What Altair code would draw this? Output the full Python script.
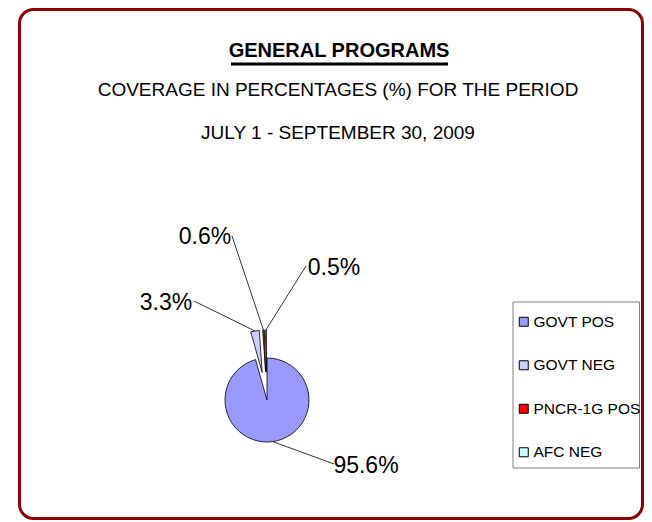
import altair as alt
import numpy as np
import pandas as pd

# ---------------- data ----------------
categories = ["GOVT  POS", "GOVT  NEG", "PNCR-1G POS", "AFC NEG"]
values = [95.6, 3.3, 0.6, 0.5]
slice_colors = ["#9999FF", "#CCCCFF", "#FF0000", "#CCFFFF"]
pulled_out = [0, 1, 1, 1]

title_text = "GENERAL PROGRAMS"
subtitle_1 = "COVERAGE IN PERCENTAGES (%) FOR THE PERIOD"
subtitle_2 = "JULY 1 - SEPTEMBER 30, 2009"

# ---------------- layout (pixels) ----------------
W, H = 636, 512
CX, CY, R, EXPLODE = 259, 392, 42, 28
FONT = "Liberation Sans, Arial, sans-serif"
# label text centre and leader start, per category
label_layout = {
    "GOVT  POS": (358, 458, 326, 456),
    "GOVT  NEG": (158, 295, 186, 293),
    "PNCR-1G POS": (197, 229, 224, 228),
    "AFC NEG": (326, 260, 298, 258),
}

vals = np.array(values, dtype=float)
frac = vals / vals.sum()
t1 = np.cumsum(frac) * 2 * np.pi
t0 = t1 - frac * 2 * np.pi
mid = (t0 + t1) / 2
pull = np.array(pulled_out, dtype=float)
px = CX + EXPLODE * pull * np.sin(mid)
py = CY - EXPLODE * pull * np.cos(mid)

pie_df = pd.DataFrame({
    "category": categories,
    "value": values,
    "t0": t0,
    "t1": t1,
    "px": px,
    "py": py,
})

lab_rows = []
for i, c in enumerate(categories):
    tx, ty, lx, ly = label_layout[c]
    lab_rows.append({
        "label": f"{values[i]:.1f}%",
        "tx": tx, "ty": ty,
        "lx": lx, "ly": ly,
        "ex": px[i] + R * np.sin(mid[i]),
        "ey": py[i] - R * np.cos(mid[i]),
    })
lab_df = pd.DataFrame(lab_rows)

one = pd.DataFrame({"k": [0]})

border = alt.Chart(one).mark_rect(
    fillOpacity=0, stroke="#8B0000", strokeWidth=3, cornerRadius=14
).encode(x=alt.value(11.5), x2=alt.value(634.5), y=alt.value(1.5), y2=alt.value(510.5))

legend_box = alt.Chart(one).mark_rect(
    fill="white", stroke="#808080", strokeWidth=1
).encode(x=alt.value(505), x2=alt.value(631.5), y=alt.value(294), y2=alt.value(460))

pie = alt.Chart(pie_df).mark_arc(radius=R, stroke="black", strokeWidth=0.8).encode(
    x=alt.X("px:Q", scale=None),
    y=alt.Y("py:Q", scale=None),
    theta=alt.Theta("t0:Q", scale=None),
    theta2=alt.Theta2("t1"),
    color=alt.Color(
        "category:N",
        sort=categories,
        scale=alt.Scale(domain=categories, range=slice_colors),
        legend=alt.Legend(
            title=None, orient="none", legendX=508, legendY=306,
            labelFont=FONT, labelFontSize=15.5, labelColor="black",
            symbolType="square", symbolSize=81, symbolStrokeColor="black",
            symbolStrokeWidth=1, rowPadding=26.5, labelOffset=2, padding=0,
            labelLimit=200,
        ),
    ),
)

leaders = alt.Chart(lab_df).mark_rule(color="black", strokeWidth=0.8).encode(
    x=alt.X("lx:Q", scale=None), y=alt.Y("ly:Q", scale=None),
    x2="ex:Q", y2="ey:Q",
)

labels = alt.Chart(lab_df).mark_text(
    font=FONT, fontSize=23, color="black", align="center", baseline="middle"
).encode(x=alt.X("tx:Q", scale=None), y=alt.Y("ty:Q", scale=None), text="label:N")

title = alt.Chart(one).mark_text(
    font=FONT, fontSize=20, fontWeight="bold", align="center", baseline="alphabetic", color="black"
).encode(x=alt.value(331), y=alt.value(49), text=alt.value(title_text))

underline = alt.Chart(one).mark_rule(color="black", strokeWidth=3).encode(
    x=alt.value(223), x2=alt.value(440), y=alt.value(56)
)

sub1 = alt.Chart(one).mark_text(
    font=FONT, fontSize=19, align="center", baseline="alphabetic", color="black"
).encode(x=alt.value(330), y=alt.value(88), text=alt.value(subtitle_1))

sub2 = alt.Chart(one).mark_text(
    font=FONT, fontSize=19, align="center", baseline="alphabetic", color="black"
).encode(x=alt.value(330), y=alt.value(131), text=alt.value(subtitle_2))

chart = alt.layer(
    border, legend_box, pie, leaders, labels, title, underline, sub1, sub2
).properties(
    width=W, height=H, padding=0, autosize=alt.AutoSizeParams(type="none")
).configure_view(stroke=None)

chart.save("out.html", embed_options={"renderer": "svg", "actions": False})
